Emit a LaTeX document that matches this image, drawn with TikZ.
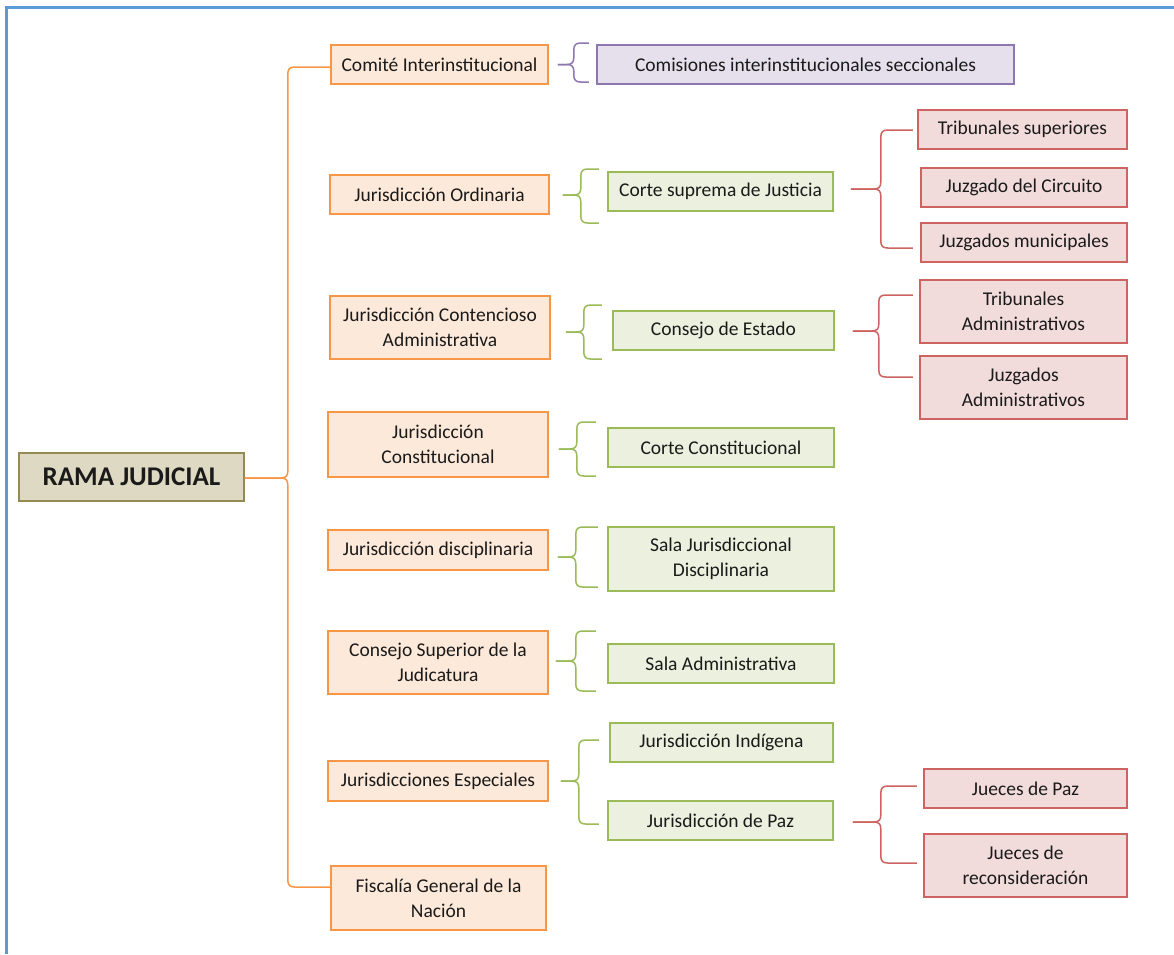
\documentclass[tikz,border=0pt]{standalone}
\usepackage{fontspec}
\setmainfont{Carlito}
\usetikzlibrary{calc}
\definecolor{txt}{HTML}{1A1A1A}
\definecolor{oFill}{HTML}{FDE9D9}
\definecolor{oLine}{HTML}{F79646}
\definecolor{gFill}{HTML}{EBF1DE}
\definecolor{gLine}{HTML}{9BBB59}
\definecolor{rFill}{HTML}{F2DCDB}
\definecolor{rLine}{HTML}{CD6462}
\definecolor{pFill}{HTML}{E5E0EC}
\definecolor{pLine}{HTML}{8E76AE}
\definecolor{kFill}{HTML}{DDD9C3}
\definecolor{kLine}{HTML}{948A54}
\definecolor{frame}{HTML}{5B9BD5}
\tikzset{
  box/.style={draw, line width=1.6pt, inner sep=0pt, align=center, text=txt,
    font=\fontsize{19.5}{25}\selectfont},
  obox/.style={box, draw=oLine, fill=oFill},
  gbox/.style={box, draw=gLine, fill=gFill},
  rbox/.style={box, draw=rLine, fill=rFill},
  pbox/.style={box, draw=pLine, fill=pFill},
  rootbox/.style={box, draw=kLine, fill=kFill, font=\fontsize{27}{30}\selectfont\bfseries},
  brk/.style={line width=1.5pt, line join=round},
  sz/.style 2 args={minimum width=#1, minimum height=#2},
}
% #1 colour, #2 tip start, #3 tip to notch, #4 notch to arm end, #5 mid to top, #6 mid to bottom
\newcommand\brk[6]{%
  \draw[brk,#1] #2 -- ++({#3-7},0) .. controls +(5,0) and +(0,5) .. ++(7,-7)
     -- ++(0,{-(#5-14)}) .. controls +(0,-5) and +(-5,0) .. ++(7,-7) -- ++({#4-7},0);
  \draw[brk,#1] #2 -- ++({#3-7},0) .. controls +(5,0) and +(0,-5) .. ++(7,7)
     -- ++(0,{#6-14}) .. controls +(0,5) and +(-5,0) .. ++(7,7) -- ++({#4-7},0);
}
\begin{document}
\begin{tikzpicture}[x=1pt,y=-1pt]
\useasboundingbox (0,0) rectangle (1174,954);
\fill[white] (0,0) rectangle (1174,954);
\draw[frame, line width=2.5pt] (6.5,954) -- (6.5,7.5) -- (1174,7.5);

% root
\node[rootbox, sz={225}{48}] (root) at (131.5,477) {RAMA JUDICIAL};

% orange column
\node[obox, sz={217}{39}] (comite) at (439.5,64.5) {Comité Interinstitucional};
\node[obox, sz={219}{39}] (ord) at (439.5,194.5) {Jurisdicción Ordinaria};
\node[obox, sz={220}{63}] (cont) at (440,327.5) {Jurisdicción Contencioso\\Administrativa};
\node[obox, sz={220}{65}] (const) at (438,444.5) {Jurisdicción\\Constitucional};
\node[obox, sz={220}{40}] (disc) at (438,550) {Jurisdicción disciplinaria};
\node[obox, sz={220}{63}] (csj) at (438,662.5) {Consejo Superior de la\\Judicatura};
\node[obox, sz={220}{40}] (esp) at (438,781) {Jurisdicciones Especiales};
\node[obox, sz={215}{64}] (fisc) at (438.5,898) {Fiscalía General de la\\Nación};

% purple
\node[pbox, sz={417}{39}] (comis) at (805.5,64.5) {Comisiones interinstitucionales seccionales};

% green column
\node[gbox, sz={225}{39}] (csup) at (720.5,191.5) {Corte suprema de Justicia};
\node[gbox, sz={221}{39}] (cest) at (723.5,330.5) {Consejo de Estado};
\node[gbox, sz={226}{39}] (ccon) at (721,447.5) {Corte Constitucional};
\node[gbox, sz={226}{64}] (sjd) at (721,559) {Sala Jurisdiccional\\Disciplinaria};
\node[gbox, sz={226}{39}] (sadm) at (721,663.5) {Sala Administrativa};
\node[gbox, sz={223}{39}] (jind) at (721.5,742.5) {Jurisdicción Indígena};
\node[gbox, sz={225}{39}] (jpaz) at (720.5,820.5) {Jurisdicción de Paz};

% red column
\node[rbox, sz={209}{39}] (tsup) at (1022.5,129.5) {Tribunales superiores};
\node[rbox, sz={206}{39}] (jcir) at (1024,187.5) {Juzgado del Circuito};
\node[rbox, sz={206}{39}] (jmun) at (1024,242.5) {Juzgados municipales};
\node[rbox, sz={207}{63}] (tadm) at (1023.5,311.5) {Tribunales\\Administrativos};
\node[rbox, sz={207}{63}] (jadm) at (1023.5,387.5) {Juzgados\\Administrativos};
\node[rbox, sz={203}{39}] (jdp) at (1025.5,788.5) {Jueces de Paz};
\node[rbox, sz={203}{63}] (jrec) at (1025.5,865.5) {Jueces de\\reconsideración};

% braces
\brk{oLine}{($(root.east)+(0,1)$)}{43}{44}{411}{409}
\brk{pLine}{($(comite.east)+(9,0)$)}{16}{15}{21.5}{17.5}
\brk{gLine}{($(ord.east)+(13,0.5)$)}{18}{18}{26}{28}
\brk{gLine}{($(cont.east)+(15,4.5)$)}{18}{18}{27}{27}
\brk{gLine}{($(const.east)+(10,4.5)$)}{18}{19}{27}{27}
\brk{gLine}{($(disc.east)+(9,7)$)}{18}{22}{30}{30}
\brk{gLine}{($(csj.east)+(7,-1.5)$)}{20}{20}{30}{30}
\brk{gLine}{($(esp.east)+(12,0)$)}{18}{20}{41}{43}
\brk{rLine}{($(csup.east)+(17,-2.5)$)}{30}{32}{59}{59}
\brk{rLine}{($(cest.east)+(18,0.5)$)}{26}{34}{36}{46}
\brk{rLine}{($(jpaz.east)+(19,1.5)$)}{28}{36}{36}{41}
\end{tikzpicture}
\end{document}
